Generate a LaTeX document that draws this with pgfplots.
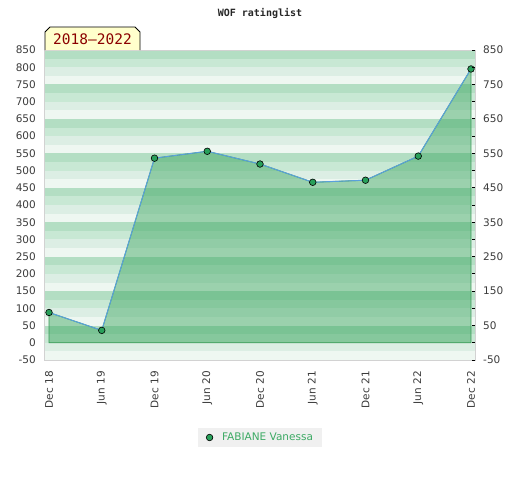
\documentclass[border=0pt]{standalone}
\usepackage{pgfplots}
\pgfplotsset{compat=1.18}
\usepackage{fontspec}
\setmainfont{DejaVu Sans}
\newfontfamily\monofont{DejaVu Sans Mono}

\definecolor{band1}{RGB}{179,222,195}
\definecolor{band2}{RGB}{200,232,212}
\definecolor{band3}{RGB}{220,238,228}
\definecolor{band4}{RGB}{238,247,241}
\definecolor{areafill}{RGB}{50,161,88}
\definecolor{areaedge}{RGB}{55,155,85}
\definecolor{linecol}{RGB}{90,160,220}
\definecolor{markcol}{RGB}{40,160,90}
\definecolor{ticktext}{RGB}{60,60,60}
\definecolor{legtext}{RGB}{60,170,100}
\definecolor{bordercol}{RGB}{210,210,210}
\definecolor{badgefill}{RGB}{255,255,204}
\definecolor{badgetext}{RGB}{139,0,0}

\begin{document}
\begin{tikzpicture}
\path[use as bounding box] (0pt,0pt) rectangle (520pt,-480pt);
\begin{axis}[
  at={(45pt,-360pt)}, anchor=south west,
  scale only axis, width=430pt, height=310pt,
  xmin=-0.076, xmax=8.076, ymin=-50, ymax=850,
  axis on top,
  /pgf/number format/assume math mode=true,
  axis line style={draw=bordercol, line width=1pt},
  xtick={0,...,8},
  xticklabels={Dec 18,Jun 19,Dec 19,Jun 20,Dec 20,Jun 21,Dec 21,Jun 22,Dec 22},
  x tick label style={rotate=90, anchor=east, inner sep=0pt,
    font=\fontsize{10.5}{12}\selectfont, text=ticktext},
  xticklabel shift=11pt,
  xtick style={draw=none},
  ytick={-50,0,...,850},
  y tick label style={anchor=east, inner sep=0pt, xshift=-9pt,
    font=\fontsize{10.5}{12}\selectfont, text=ticktext},
  ytick style={draw=none},
  legend style={at={(0.5,-0.25)}, anchor=center, fill=black!6, draw=none,
    font=\fontsize{10.5}{12}\selectfont, text=legtext, inner xsep=7pt, inner ysep=3pt,
    legend cell align=left},
]
\pgfplotsinvokeforeach{0,...,8}{
  \fill[band1] (axis cs:-1,#1*100+25) rectangle (axis cs:9,#1*100+50);
  \fill[band2] (axis cs:-1,#1*100) rectangle (axis cs:9,#1*100+25);
  \fill[band3] (axis cs:-1,#1*100-25) rectangle (axis cs:9,#1*100);
  \fill[band4] (axis cs:-1,#1*100-50) rectangle (axis cs:9,#1*100-25);
}
\addplot[fill=areafill, fill opacity=0.44, draw=areaedge, line width=0.8pt, forget plot]
  coordinates {(0,88) (1,36) (2,536) (3,556) (4,519) (5,466) (6,472) (7,542) (8,795)} \closedcycle;
\addplot[linecol, line width=1pt, mark=*, mark size=3.3pt,
  mark options={fill=markcol, draw=black, line width=0.6pt},
  legend image code/.code={\path[draw=none,fill=none] (0pt,0pt) -- (15pt,0pt);\draw[mark=*, mark size=3.3pt, mark options={fill=markcol, draw=black, line width=0.6pt}] plot coordinates {(4.5pt,0pt)};}]
  coordinates {(0,88) (1,36) (2,536) (3,556) (4,519) (5,466) (6,472) (7,542) (8,795)};
\addlegendentry{FABIANE Vanessa}
\end{axis}
\begin{axis}[
  at={(45pt,-360pt)}, anchor=south west,
  scale only axis, width=430pt, height=310pt,
  xmin=-0.076, xmax=8.076, ymin=-50, ymax=850,
  /pgf/number format/assume math mode=true,
  axis x line=none, axis y line*=right,
  axis line style={draw=bordercol, line width=1pt},
  ytick={-50,50,...,850},
  minor ytick={0,100,...,800},
  major tick length=3pt, minor tick length=3pt,
  tick align=inside,
  tick style={draw=black, line width=0.8pt},
  y tick label style={anchor=west, inner sep=0pt, xshift=8pt,
    font=\fontsize{10.5}{12}\selectfont, text=ticktext},
]
\end{axis}
\draw[fill=badgefill, line width=0.8pt] (45pt,-50pt) -- (45pt,-32pt) -- (50pt,-27pt) -- (135pt,-27pt) -- (140pt,-32pt) -- (140pt,-50pt);
\node[text=badgetext, font=\monofont\fontsize{14.5}{16}\selectfont] at (92.5pt,-39.5pt) {2018–2022};
\node[font=\monofont\bfseries\fontsize{10}{12}\selectfont, text=black!85] at (260pt,-13pt) {WOF ratinglist};
\end{tikzpicture}
\end{document}
